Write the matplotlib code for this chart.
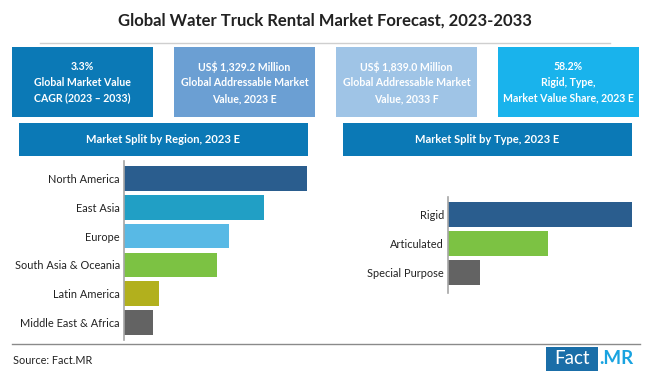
import matplotlib
matplotlib.use("Agg")
import matplotlib.pyplot as plt
from matplotlib.patches import Rectangle

plt.rcParams['font.family'] = ['Lato', 'DejaVu Sans']

title = "Global Water Truck Rental Market Forecast, 2023-2033"
box_texts = [
    "3.3%\nGlobal Market Value\nCAGR (2023 \u2013 2033)",
    "US$ 1,329.2 Million\nGlobal Addressable Market\nValue, 2023 E",
    "US$ 1,839.0 Million\nGlobal Addressable Market\nValue, 2033 F",
    "58.2%\nRigid, Type,\nMarket Value Share, 2023 E",
]
box_colors = ["#0b79b6", "#6b9fd3", "#9fc4e6", "#19b3ec"]

region_title = "Market Split by Region, 2023 E"
regions = ["North America", "East Asia", "Europe", "South Asia & Oceania",
           "Latin America", "Middle East & Africa"]
region_values = [183, 140, 105, 93, 35, 29]
region_colors = ["#2a5d8e", "#219fc5", "#58b9e5", "#7cc243", "#b2b01d", "#636363"]

type_title = "Market Split by Type, 2023 E"
types = ["Rigid", "Articulated", "Special Purpose"]
type_values = [184, 100, 32]
type_colors = ["#2a5d8e", "#7cc243", "#636363"]

W, H = 650, 377
fig = plt.figure(figsize=(6.5, 3.77), dpi=100)
fig.patch.set_facecolor("white")

bg = fig.add_axes([0, 0, 1, 1])
bg.set_xlim(0, W)
bg.set_ylim(H, 0)
bg.axis("off")

bg.text(325, 21, title, ha="center", va="center", fontsize=12,
        fontweight="bold", color="#222222")
bg.plot([40, 610], [43, 43], color="#cfcfcf", lw=1)

bx = [12, 174, 336, 498]
for x0, t, c in zip(bx, box_texts, box_colors):
    bg.add_patch(Rectangle((x0, 47), 141, 70, facecolor=c, edgecolor="none"))
    bg.text(x0 + 70.5, 82.5, t, ha="center", va="center", fontsize=7.6,
            fontweight="bold", color="white", linespacing=1.5)

bg.add_patch(Rectangle((19, 123), 289, 33, facecolor="#0b79b6", edgecolor="none"))
bg.text(163, 139.5, region_title, ha="center", va="center", fontsize=8,
        fontweight="bold", color="white")
bg.add_patch(Rectangle((343, 123), 289, 33, facecolor="#0b79b6", edgecolor="none"))
bg.text(487, 139.5, type_title, ha="center", va="center", fontsize=8,
        fontweight="bold", color="white")

bg.plot([12, 640], [343.5, 343.5], color="#8a8a8a", lw=1)
bg.text(13, 361, "Source: Fact.MR", ha="left", va="center", fontsize=7.8,
        color="#222222")
bg.add_patch(Rectangle((546, 347), 52, 24, facecolor="#1a6ea8", edgecolor="none"))
bg.text(572, 359, "Fact", ha="center", va="center", fontsize=13.5,
        color="white")
bg.text(599, 359, ".MR", ha="left", va="center", fontsize=13.5,
        fontweight="bold", color="#19a3e0")


def px_axes(x0, y0, x1, y1):
    return fig.add_axes([x0 / W, 1 - y1 / H, (x1 - x0) / W, (y1 - y0) / H])


def style(ax):
    for s in ["top", "right", "bottom"]:
        ax.spines[s].set_visible(False)
    ax.spines["left"].set_color("#a6a6a6")
    ax.spines["left"].set_linewidth(1.2)
    ax.set_xticks([])
    ax.tick_params(axis="y", length=0, pad=3, labelsize=7.9, labelcolor="#222222")
    ax.patch.set_alpha(0)


ax1 = px_axes(124, 161, 314, 340)
ax1.barh(range(len(regions)), region_values, height=0.86, color=region_colors)
ax1.set_yticks(range(len(regions)))
ax1.set_yticklabels(regions)
ax1.set_ylim(5.6, -0.6)
ax1.set_xlim(0, 190)
style(ax1)

ax2 = px_axes(448, 197, 638, 293)
ax2.barh(range(len(types)), type_values, height=0.86, color=type_colors)
ax2.set_yticks(range(len(types)))
ax2.set_yticklabels(types)
ax2.set_ylim(2.7, -0.6)
ax2.set_xlim(0, 190)
style(ax2)

fig.savefig("out.png", dpi=100, facecolor="white")
